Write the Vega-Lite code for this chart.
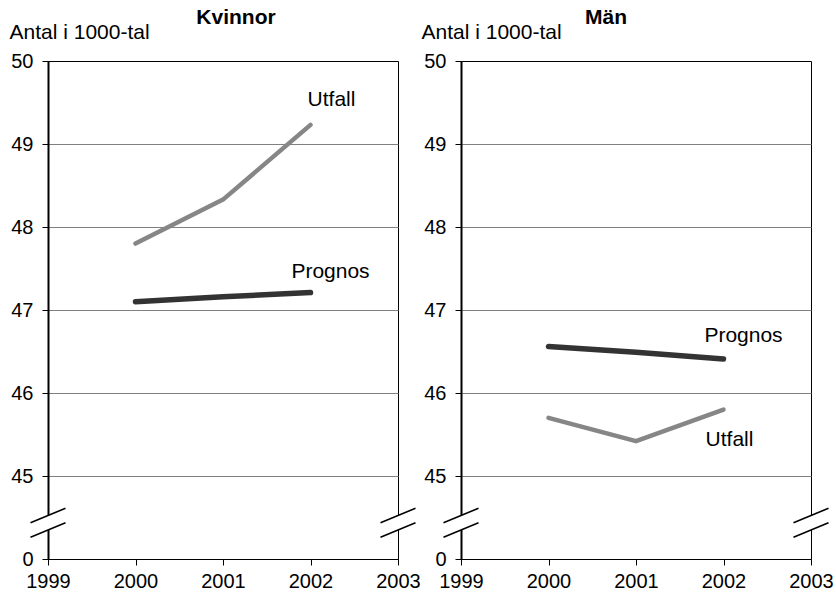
{
  "$schema": "https://vega.github.io/schema/vega-lite/v6.json",
  "padding": {"left": 8, "top": 6, "right": 0, "bottom": 0},
  "background": "white",
  "bounds": "flush",
  "spacing": 63,
  "config": {
    "font": "Liberation Sans",
    "view": {"stroke": "black", "strokeWidth": 1},
    "title": {"fontSize": 21, "fontWeight": "bold", "color": "black", "offset": -7},
    "axis": {"labelFontSize": 20, "labelColor": "black", "tickColor": "black", "domainColor": "black", "titleColor": "black", "zindex": 0}
  },
  "datasets": {
    "main": [
      {"kon": "Kvinnor", "serie": "Utfall", "year": 2000, "value": 47.80},
      {"kon": "Kvinnor", "serie": "Utfall", "year": 2001, "value": 48.33},
      {"kon": "Kvinnor", "serie": "Utfall", "year": 2002, "value": 49.23},
      {"kon": "Kvinnor", "serie": "Prognos", "year": 2000, "value": 47.10},
      {"kon": "Kvinnor", "serie": "Prognos", "year": 2001, "value": 47.16},
      {"kon": "Kvinnor", "serie": "Prognos", "year": 2002, "value": 47.21},
      {"kon": "Män", "serie": "Utfall", "year": 2000, "value": 45.70},
      {"kon": "Män", "serie": "Utfall", "year": 2001, "value": 45.42},
      {"kon": "Män", "serie": "Utfall", "year": 2002, "value": 45.80},
      {"kon": "Män", "serie": "Prognos", "year": 2000, "value": 46.56},
      {"kon": "Män", "serie": "Prognos", "year": 2001, "value": 46.49},
      {"kon": "Män", "serie": "Prognos", "year": 2002, "value": 46.41}
    ],
    "breaks": [
      {"year": 1999, "value": 44.437},
      {"year": 2003, "value": 44.437}
    ]
  },
  "hconcat": [
    {
      "width": 350,
      "height": 498,
      "title": {"text": "Kvinnor", "anchor": "middle", "dx": 13},
      "layer": [
        {
          "data": {"name": "main"},
          "transform": [{"filter": "datum.kon == 'Kvinnor'"}],
          "mark": {"type": "line", "strokeCap": "round", "strokeJoin": "round"},
          "encoding": {
            "x": {"field": "year", "type": "quantitative", "scale": {"domain": [1999, 2003], "nice": false, "zero": false},
              "axis": {"values": [1999, 2000, 2001, 2002, 2003], "format": "d", "title": null, "grid": false, "tickSize": 6, "labelPadding": 6, "labelFlush": false, "labelOverlap": false, "labelBound": false, "domainWidth": 1}},
            "y": {"field": "value", "type": "quantitative", "scale": {"domain": [44, 50], "nice": false, "zero": false},
              "axis": {"values": [44, 45, 46, 47, 48, 49, 50], "format": "d", "labelExpr": "datum.value == 44 ? '0' : datum.label", "title": "Antal i 1000-tal", "titleAngle": 0, "titleAlign": "left", "titleBaseline": "alphabetic", "titleX": -39, "titleY": -23, "titleFontWeight": "normal", "titleFontSize": 21, "tickSize": 6, "labelPadding": 9, "domainWidth": 2, "grid": true, "gridColor": "#808080", "gridWidth": 1, "gridOpacity": {"condition": {"test": "datum.value >= 45 && datum.value <= 49", "value": 1}, "value": 0}}},
            "color": {"field": "serie", "type": "nominal", "scale": {"domain": ["Utfall", "Prognos"], "range": ["#868686", "#333333"]}, "legend": null},
            "strokeWidth": {"field": "serie", "type": "nominal", "scale": {"domain": ["Utfall", "Prognos"], "range": [4.5, 5.5]}, "legend": null}
          }
        },
        {
          "data": {"name": "main"},
          "transform": [{"filter": "datum.kon == 'Kvinnor' && datum.serie == 'Utfall' && datum.year == 2002"}],
          "mark": {"type": "text", "fontSize": 21, "color": "black", "align": "center", "baseline": "middle", "dx": 21, "dy": -25},
          "encoding": {"x": {"field": "year", "type": "quantitative"}, "y": {"field": "value", "type": "quantitative"}, "text": {"field": "serie"}}
        },
        {
          "data": {"name": "main"},
          "transform": [{"filter": "datum.kon == 'Kvinnor' && datum.serie == 'Prognos' && datum.year == 2002"}],
          "mark": {"type": "text", "fontSize": 21, "color": "black", "align": "center", "baseline": "middle", "dx": 20, "dy": -21},
          "encoding": {"x": {"field": "year", "type": "quantitative"}, "y": {"field": "value", "type": "quantitative"}, "text": {"field": "serie"}}
        },
        {
          "data": {"name": "breaks"},
          "mark": {"type": "point", "shape": "M-0.2,-0.332 L0.2,-0.498 L0.2,0.332 L-0.2,0.498 Z", "filled": true, "fill": "white", "strokeWidth": 0, "opacity": 1, "size": 1225},
          "encoding": {"x": {"field": "year", "type": "quantitative"}, "y": {"field": "value", "type": "quantitative"}}
        },
        {
          "data": {"name": "breaks"},
          "mark": {"type": "point", "shape": "M-1,0 L1,-0.83 M-1,0.83 L1,0", "filled": false, "stroke": "black", "strokeWidth": 1.5, "opacity": 1, "size": 1225},
          "encoding": {"x": {"field": "year", "type": "quantitative"}, "y": {"field": "value", "type": "quantitative"}}
        }
      ]
    },
    {
      "width": 350,
      "height": 498,
      "title": {"text": "Män", "anchor": "middle", "dx": -30},
      "layer": [
        {
          "data": {"name": "main"},
          "transform": [{"filter": "datum.kon == 'Män'"}],
          "mark": {"type": "line", "strokeCap": "round", "strokeJoin": "round"},
          "encoding": {
            "x": {"field": "year", "type": "quantitative", "scale": {"domain": [1999, 2003], "nice": false, "zero": false},
              "axis": {"values": [1999, 2000, 2001, 2002, 2003], "format": "d", "title": null, "grid": false, "tickSize": 6, "labelPadding": 6, "labelFlush": false, "labelOverlap": false, "labelBound": false, "domainWidth": 1}},
            "y": {"field": "value", "type": "quantitative", "scale": {"domain": [44, 50], "nice": false, "zero": false},
              "axis": {"values": [44, 45, 46, 47, 48, 49, 50], "format": "d", "labelExpr": "datum.value == 44 ? '0' : datum.label", "title": "Antal i 1000-tal", "titleAngle": 0, "titleAlign": "left", "titleBaseline": "alphabetic", "titleX": -40, "titleY": -23, "titleFontWeight": "normal", "titleFontSize": 21, "tickSize": 6, "labelPadding": 9, "domainWidth": 2, "grid": true, "gridColor": "#808080", "gridWidth": 1, "gridOpacity": {"condition": {"test": "datum.value >= 45 && datum.value <= 49", "value": 1}, "value": 0}}},
            "color": {"field": "serie", "type": "nominal", "scale": {"domain": ["Utfall", "Prognos"], "range": ["#868686", "#333333"]}, "legend": null},
            "strokeWidth": {"field": "serie", "type": "nominal", "scale": {"domain": ["Utfall", "Prognos"], "range": [4.5, 5.5]}, "legend": null}
          }
        },
        {
          "data": {"name": "main"},
          "transform": [{"filter": "datum.kon == 'Män' && datum.serie == 'Prognos' && datum.year == 2002"}],
          "mark": {"type": "text", "fontSize": 21, "color": "black", "align": "center", "baseline": "middle", "dx": 20, "dy": -23},
          "encoding": {"x": {"field": "year", "type": "quantitative"}, "y": {"field": "value", "type": "quantitative"}, "text": {"field": "serie"}}
        },
        {
          "data": {"name": "main"},
          "transform": [{"filter": "datum.kon == 'Män' && datum.serie == 'Utfall' && datum.year == 2002"}],
          "mark": {"type": "text", "fontSize": 21, "color": "black", "align": "center", "baseline": "middle", "dx": 6, "dy": 30},
          "encoding": {"x": {"field": "year", "type": "quantitative"}, "y": {"field": "value", "type": "quantitative"}, "text": {"field": "serie"}}
        },
        {
          "data": {"name": "breaks"},
          "mark": {"type": "point", "shape": "M-0.2,-0.332 L0.2,-0.498 L0.2,0.332 L-0.2,0.498 Z", "filled": true, "fill": "white", "strokeWidth": 0, "opacity": 1, "size": 1225},
          "encoding": {"x": {"field": "year", "type": "quantitative"}, "y": {"field": "value", "type": "quantitative"}}
        },
        {
          "data": {"name": "breaks"},
          "mark": {"type": "point", "shape": "M-1,0 L1,-0.83 M-1,0.83 L1,0", "filled": false, "stroke": "black", "strokeWidth": 1.5, "opacity": 1, "size": 1225},
          "encoding": {"x": {"field": "year", "type": "quantitative"}, "y": {"field": "value", "type": "quantitative"}}
        }
      ]
    }
  ]
}
